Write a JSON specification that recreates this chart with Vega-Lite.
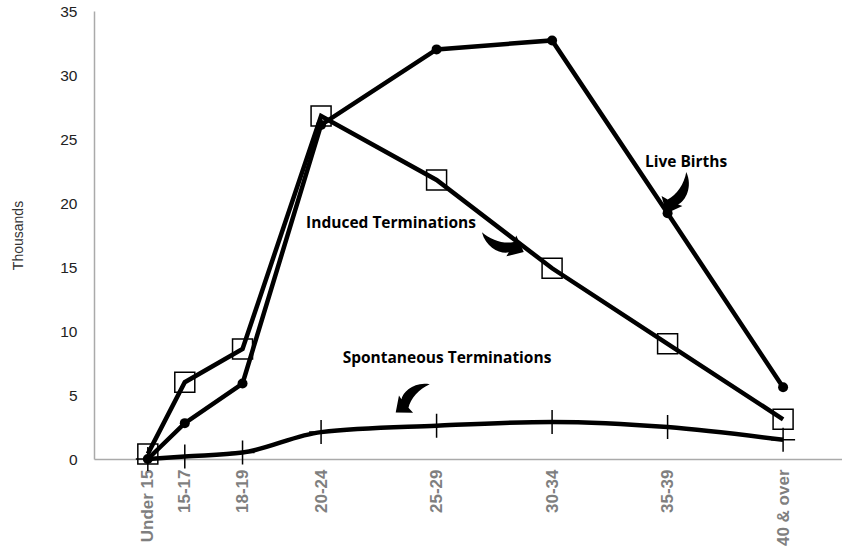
{
  "$schema": "https://vega.github.io/schema/vega-lite/v6.json",
  "width": 748,
  "height": 448,
  "autosize": {"type": "none"},
  "padding": {"left": 94, "top": 11, "right": 0, "bottom": 98},
  "background": "white",
  "config": {"view": {"stroke": null}},
  "datasets": {
    "series": [
      {"group": "Live Births", "age": 14.5, "value": 0},
      {"group": "Live Births", "age": 16.1, "value": 2.8},
      {"group": "Live Births", "age": 18.6, "value": 5.9},
      {"group": "Live Births", "age": 22, "value": 26.1},
      {"group": "Live Births", "age": 27, "value": 32.0},
      {"group": "Live Births", "age": 32, "value": 32.7},
      {"group": "Live Births", "age": 37, "value": 19.2},
      {"group": "Live Births", "age": 42, "value": 5.6},
      {"group": "Induced Terminations", "age": 14.5, "value": 0.4},
      {"group": "Induced Terminations", "age": 16.1, "value": 6.0},
      {"group": "Induced Terminations", "age": 18.6, "value": 8.6},
      {"group": "Induced Terminations", "age": 22, "value": 26.8},
      {"group": "Induced Terminations", "age": 27, "value": 21.8},
      {"group": "Induced Terminations", "age": 32, "value": 14.9},
      {"group": "Induced Terminations", "age": 37, "value": 9.0},
      {"group": "Induced Terminations", "age": 42, "value": 3.1},
      {"group": "Spontaneous Terminations", "age": 14.5, "value": 0},
      {"group": "Spontaneous Terminations", "age": 16.1, "value": 0.2},
      {"group": "Spontaneous Terminations", "age": 18.6, "value": 0.5},
      {"group": "Spontaneous Terminations", "age": 22, "value": 2.1},
      {"group": "Spontaneous Terminations", "age": 27, "value": 2.6},
      {"group": "Spontaneous Terminations", "age": 32, "value": 2.9},
      {"group": "Spontaneous Terminations", "age": 37, "value": 2.5},
      {"group": "Spontaneous Terminations", "age": 42, "value": 1.5}
    ],
    "labels": [
      {"label": "Live Births", "age": 37.8, "value": 23.2},
      {"label": "Induced Terminations", "age": 25.03, "value": 18.44},
      {"label": "Spontaneous Terminations", "age": 27.45, "value": 7.9}
    ],
    "arrowA": [
      {"label": "Live Births", "age": 37.28, "value": 20.86}
    ],
    "arrowB": [
      {"label": "Induced Terminations", "age": 29.92, "value": 17.1}
    ],
    "arrowC": [
      {"label": "Spontaneous Terminations", "age": 26.02, "value": 4.6}
    ]
  },
  "encoding": {
    "x": {
      "field": "age",
      "type": "quantitative",
      "scale": {"domain": [12.17, 44.55], "nice": false, "zero": false},
      "axis": {
        "title": null,
        "values": [14.5, 16.1, 18.6, 22, 27, 32, 37, 42],
        "labelExpr": "datum.value == 14.5 ? 'Under 15' : datum.value == 16.1 ? '15-17' : datum.value == 18.6 ? '18-19' : datum.value == 22 ? '20-24' : datum.value == 27 ? '25-29' : datum.value == 32 ? '30-34' : datum.value == 37 ? '35-39' : '40 & over'",
        "labelAngle": -90,
        "labelAlign": "right",
        "labelBaseline": "middle",
        "labelPadding": 10,
        "labelFont": "Liberation Sans",
        "labelFontWeight": "bold",
        "labelFontSize": 17,
        "labelColor": "#7f7f7f",
        "labelOverlap": false,
        "labelBound": false,
        "ticks": false,
        "grid": false,
        "domainColor": "#aaaaaa",
        "domainWidth": 1.5
      }
    },
    "y": {
      "field": "value",
      "type": "quantitative",
      "scale": {"domain": [0, 35], "nice": false},
      "axis": {
        "title": "Thousands",
        "titleFont": "Liberation Sans",
        "titleFontWeight": "normal",
        "titleFontSize": 14,
        "titleColor": "#333333",
        "titlePadding": 34,
        "values": [0, 5, 10, 15, 20, 25, 30, 35],
        "labelFont": "Liberation Sans",
        "labelFontSize": 15.5,
        "labelColor": "#222222",
        "labelPadding": 17,
        "ticks": false,
        "grid": false,
        "domainColor": "#aaaaaa",
        "domainWidth": 1.5
      }
    }
  },
  "layer": [
    {
      "data": {"values": [{}]},
      "mark": {"type": "rule", "color": "#aaaaaa", "strokeWidth": 1.5},
      "encoding": {"x": null, "y": {"datum": 35}}
    },
    {
      "data": {"name": "series"},
      "transform": [{"filter": "datum.group == 'Spontaneous Terminations'"}],
      "mark": {"type": "line", "color": "black", "strokeWidth": 4.5, "interpolate": "monotone"}
    },
    {
      "data": {"name": "series"},
      "transform": [{"filter": "datum.group == 'Live Births'"}],
      "mark": {"type": "line", "color": "black", "strokeWidth": 4.5}
    },
    {
      "data": {"name": "series"},
      "transform": [{"filter": "datum.group == 'Induced Terminations'"}],
      "mark": {"type": "line", "color": "black", "strokeWidth": 4.5}
    },
    {
      "data": {"name": "series"},
      "transform": [{"filter": "datum.group == 'Live Births'"}],
      "mark": {"type": "point", "shape": "circle", "filled": true, "color": "black", "size": 100, "opacity": 1}
    },
    {
      "data": {"name": "series"},
      "transform": [{"filter": "datum.group == 'Induced Terminations'"}],
      "mark": {"type": "point", "shape": "square", "filled": false, "stroke": "black", "strokeWidth": 1.5, "size": 400, "opacity": 1}
    },
    {
      "data": {"name": "series"},
      "transform": [{"filter": "datum.group == 'Spontaneous Terminations'"}],
      "mark": {"type": "point", "shape": "M-1,0H1M0,-1V1", "filled": false, "stroke": "black", "strokeWidth": 1.5, "size": 576, "opacity": 1}
    },
    {
      "data": {"name": "labels"},
      "mark": {"type": "text", "font": "Open Sans", "fontWeight": "bold", "fontSize": 15.5, "color": "black", "align": "center", "baseline": "middle"},
      "encoding": {"text": {"field": "label"}}
    },
    {
      "data": {"name": "arrowA"},
      "mark": {"type": "point", "shape": "M0.2,-1C0.7,-0.5,0.6,0.2,0.35,0.45L0.55,0.45L0,1L-0.45,0.35L-0.15,0.4C0.15,0.1,0.3,-0.5,0.2,-1Z", "filled": true, "color": "black", "size": 2116, "angle": 20, "opacity": 1}
    },
    {
      "data": {"name": "arrowB"},
      "mark": {"type": "point", "shape": "M-0.2,-1C-0.7,-0.5,-0.6,0.2,-0.35,0.45L-0.55,0.45L0,1L0.45,0.35L0.15,0.4C-0.15,0.1,-0.3,-0.5,-0.2,-1Z", "filled": true, "color": "black", "size": 2116, "angle": -59, "opacity": 1}
    },
    {
      "data": {"name": "arrowC"},
      "mark": {"type": "point", "shape": "M-0.2,-1C-0.7,-0.5,-0.6,0.2,-0.35,0.45L-0.55,0.45L0,1L0.45,0.35L0.15,0.4C-0.15,0.1,-0.3,-0.5,-0.2,-1Z", "filled": true, "color": "black", "size": 1936, "angle": 56, "opacity": 1}
    }
  ]
}
